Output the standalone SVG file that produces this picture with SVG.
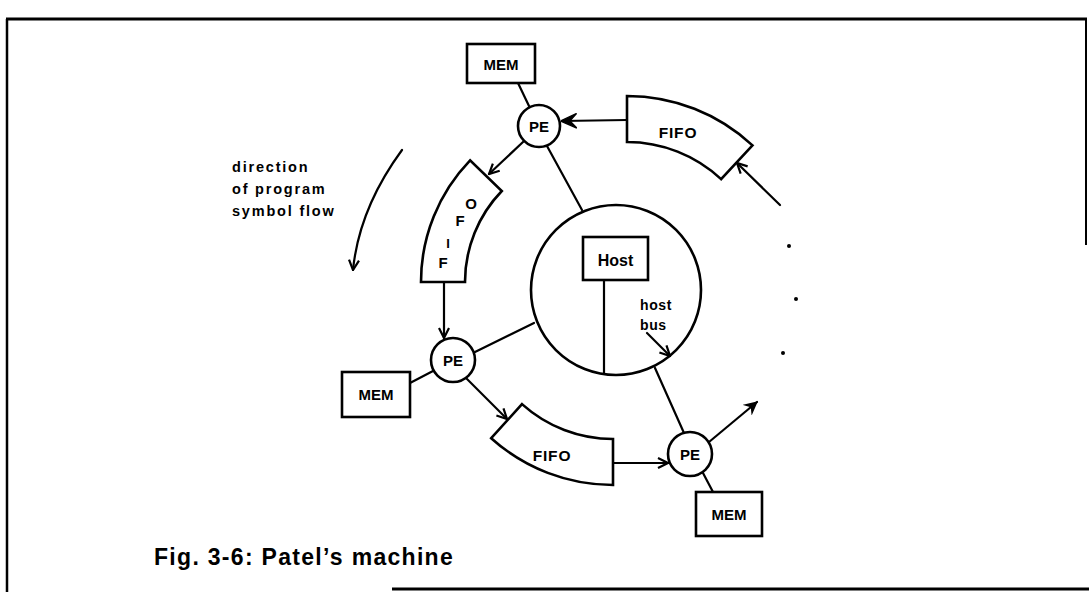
<svg xmlns="http://www.w3.org/2000/svg" width="1089" height="592" viewBox="0 0 1089 592">
<defs>
<style>
.ln{stroke:#000;stroke-width:2.2;fill:none;stroke-linecap:round}
.sh{stroke:#000;stroke-width:2.6;fill:#fff}
.t{font-family:"Liberation Sans",Arial,sans-serif;font-weight:bold;fill:#000}
.c{text-anchor:middle}
</style>
<marker id="open" viewBox="0 0 12 12" refX="11" refY="6" markerWidth="12" markerHeight="12" markerUnits="userSpaceOnUse" orient="auto">
<path d="M1,1 L11,6 L1,11" fill="none" stroke="#000" stroke-width="2.2"/>
</marker>
<marker id="solid" viewBox="0 0 12 12" refX="11" refY="6" markerWidth="14" markerHeight="14" markerUnits="userSpaceOnUse" orient="auto">
<path d="M0,0 L12,6 L0,12 L4,6 Z" fill="#000"/>
</marker>
<marker id="bold" viewBox="0 0 12 12" refX="11" refY="6" markerWidth="16" markerHeight="16" markerUnits="userSpaceOnUse" orient="auto">
<path d="M0,0.5 L12,6 L0,11.5 L5,6 Z" fill="#000" stroke="#000" stroke-width="1"/>
</marker>
</defs>
<rect width="1089" height="592" fill="#fff"/>
<g id="frame" stroke="#000" fill="none">
<path d="M6,19 H1087" stroke-width="3"/>
<path d="M7,19 V592" stroke-width="2.5"/>
<path d="M1086,19 V245" stroke-width="2"/>
<path d="M392,589 H1089" stroke-width="3"/>
</g>
<g id="connectors">
<line class="ln" x1="518" y1="83" x2="529" y2="106"/>
<line class="ln" x1="627" y1="120" x2="562" y2="121" marker-end="url(#bold)" stroke-width="2.8"/>
<line class="ln" x1="523" y1="142" x2="489" y2="174" marker-end="url(#open)"/>
<line class="ln" x1="547" y1="146" x2="582" y2="210"/>
<line class="ln" x1="780" y1="205" x2="737" y2="163" marker-end="url(#open)"/>
<line class="ln" x1="444" y1="282" x2="444" y2="338" marker-end="url(#open)"/>
<line class="ln" x1="475" y1="352" x2="534" y2="323"/>
<line class="ln" x1="433" y1="371" x2="410" y2="383"/>
<line class="ln" x1="466" y1="378" x2="507" y2="419" marker-end="url(#open)"/>
<line class="ln" x1="613" y1="463" x2="668" y2="463" marker-end="url(#open)" stroke-width="3"/>
<line class="ln" x1="655" y1="368" x2="684" y2="433"/>
<line class="ln" x1="703" y1="473" x2="713" y2="492"/>
<line class="ln" x1="709" y1="442" x2="757" y2="402" marker-end="url(#solid)"/>
<line class="ln" x1="604" y1="280" x2="604" y2="374"/>
<line class="ln" x1="647" y1="333" x2="670" y2="356" marker-end="url(#open)"/>
<path class="ln" d="M402,150 C380,180 358,220 353,270" marker-end="url(#open)" stroke-width="2.6"/>
</g>
<g id="host-ring">
<circle cx="616" cy="290" r="85" fill="none" stroke="#000" stroke-width="2.6"/>
</g>
<g id="host">
<rect class="sh" x="583" y="237" width="65" height="43"/>
<text class="t c" x="615.5" y="265.5" font-size="16">Host</text>
</g>
<text class="t" x="640" y="310" font-size="14" letter-spacing="0.6">host</text>
<text class="t" x="640" y="330" font-size="14" letter-spacing="0.6">bus</text>
<g id="mem-top">
<rect class="sh" x="467" y="44" width="68" height="39"/>
<text class="t c" x="501" y="69.5" font-size="15">MEM</text>
</g>
<g id="pe-top">
<circle class="sh" cx="539" cy="126" r="21"/>
<text class="t c" x="539" y="131.5" font-size="15">PE</text>
</g>
<g id="fifo-top">
<path class="sh" d="M627,96 A184,184 0 0 1 752.5,145.4 L721.1,179.1 A138,138 0 0 0 627,142 Z"/>
<text class="t c" x="678" y="137.5" font-size="15.5" letter-spacing="0.8">FIFO</text>
</g>
<g id="fifo-left">
<path class="sh" d="M421,282 A175,175 0 0 1 470.1,160.4 L501.8,191 A131,131 0 0 0 465,282 Z"/>
<text class="t c" x="443" y="267.5" font-size="15">F</text>
<text class="t c" x="448" y="248" font-size="13">I</text>
<text class="t c" x="460" y="225.5" font-size="15">F</text>
<text class="t c" x="471" y="208.5" font-size="15">O</text>
</g>
<g id="pe-left">
<circle class="sh" cx="453" cy="360" r="22"/>
<text class="t c" x="453" y="365.5" font-size="15">PE</text>
</g>
<g id="mem-left">
<rect class="sh" x="342" y="372" width="68" height="45"/>
<text class="t c" x="376" y="400" font-size="15">MEM</text>
</g>
<g id="fifo-bottom">
<path class="sh" d="M613,439 L613,485 A182,182 0 0 1 491.2,438.2 L522,404.1 A136,136 0 0 0 613,439 Z"/>
<text class="t c" x="552" y="460.5" font-size="15.5" letter-spacing="0.8">FIFO</text>
</g>
<g id="pe-br">
<circle class="sh" cx="690" cy="454" r="22"/>
<text class="t c" x="690" y="459.5" font-size="15">PE</text>
</g>
<g id="mem-br">
<rect class="sh" x="696" y="492" width="66" height="44"/>
<text class="t c" x="729" y="519.5" font-size="15">MEM</text>
</g>
<g id="dots" fill="#000">
<circle cx="789" cy="246" r="2"/>
<circle cx="796" cy="299" r="2"/>
<circle cx="783" cy="353" r="2"/>
</g>
<g id="legend">
<text class="t" x="232" y="172" font-size="14.5" letter-spacing="1.8">direction</text>
<text class="t" x="232" y="194" font-size="14.5" letter-spacing="1.8">of program</text>
<text class="t" x="232" y="216" font-size="14.5" letter-spacing="1.8">symbol flow</text>
</g>
<text class="t" x="154" y="565" font-size="23" letter-spacing="1.3">Fig. 3-6:  Patel’s machine</text>
</svg>
